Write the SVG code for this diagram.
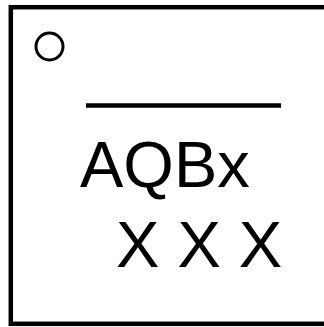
<svg xmlns="http://www.w3.org/2000/svg" width="324" height="327" viewBox="0 0 324 327">
<style>
.t{font-family:"Liberation Sans",Arial,sans-serif;font-size:65px;fill:#000}
</style>
<rect width="324" height="327" fill="#fff"/>
<g id="package">
<rect x="10.8" y="7.2" width="330" height="316.6" fill="none" stroke="#000" stroke-width="4.5"/>
<circle cx="49.5" cy="46.5" r="13.5" fill="none" stroke="#000" stroke-width="3"/>
<line x1="86" y1="105.5" x2="281" y2="105.5" stroke="#000" stroke-width="4.5"/>
<text class="t" x="80" y="186.7">AQBx</text>
<text class="t" x="116" y="266.7">X X X</text>
</g>
</svg>
